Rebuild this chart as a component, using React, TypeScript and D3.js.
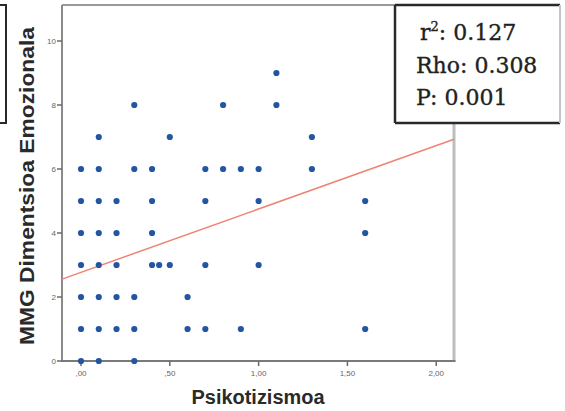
import React from "react";
import * as d3 from "d3";

// Observations: Psikotizismoa (x) vs MMG Dimentsioa Emozionala (y)
const psikotizismoa = [
  0, 0, 0, 0, 0, 0, 0,
  0.1, 0.1, 0.1, 0.1, 0.1, 0.1, 0.1, 0.1,
  0.2, 0.2, 0.2, 0.2, 0.2,
  0.3, 0.3, 0.3, 0.3, 0.3,
  0.4, 0.4, 0.4, 0.4,
  0.44,
  0.5, 0.5,
  0.6, 0.6,
  0.7, 0.7, 0.7, 0.7,
  0.8, 0.8,
  0.9, 0.9,
  1.0, 1.0, 1.0,
  1.1, 1.1,
  1.3, 1.3,
  1.6, 1.6, 1.6,
];
const emozionala = [
  0, 1, 2, 3, 4, 5, 6,
  0, 1, 2, 3, 4, 5, 6, 7,
  1, 2, 3, 4, 5,
  0, 1, 2, 6, 8,
  3, 4, 5, 6,
  3,
  3, 7,
  1, 2,
  1, 3, 5, 6,
  6, 8,
  1, 6,
  3, 5, 6,
  8, 9,
  6, 7,
  1, 4, 5,
];

// Linear fit line (intercept, slope)
const fitIntercept = 2.77;
const fitSlope = 1.98;

const xTicks = [0, 0.5, 1, 1.5, 2];
const xTickLabels = [",00", ",50", "1,00", "1,50", "2,00"];
const yTicks = [0, 2, 4, 6, 8, 10];

const statLines = [
  { label: "r", sup: "2", value: "0.127" },
  { label: "Rho", sup: "", value: "0.308" },
  { label: "P", sup: "", value: "0.001" },
];

const W = 565;
const H = 411;
const plot = { left: 62, right: 454, top: 5, bottom: 361 };

export default function App() {
  const x = d3.scaleLinear().domain([-0.107, 2.1]).range([plot.left, plot.right]);
  const y = d3.scaleLinear().domain([0, 10]).range([plot.bottom, 41]);

  const xDomain = x.domain();
  const fitLine = d3
    .line<number>()
    .x((d) => x(d))
    .y((d) => y(fitIntercept + fitSlope * d))(xDomain);

  const tickFont = "'Liberation Sans', Arial, sans-serif";

  return (
    <svg
      width={W}
      height={H}
      viewBox={`0 0 ${W} ${H}`}
      style={{ position: "absolute", left: 0, top: 0, background: "#fff" }}
    >
      <rect x={0} y={0} width={W} height={H} fill="#fff" />

      {/* plot frame */}
      <line x1={plot.left} x2={plot.right} y1={plot.top} y2={plot.top} stroke="#9a9a9a" strokeWidth={2} />
      <line x1={plot.right} x2={plot.right} y1={plot.top} y2={plot.bottom} stroke="#bdbdbd" strokeWidth={3} />
      <line x1={plot.left} x2={plot.left} y1={plot.top} y2={plot.bottom + 1} stroke="#8a8a8a" strokeWidth={2} />
      <line x1={plot.left} x2={plot.right + 1.5} y1={plot.bottom} y2={plot.bottom} stroke="#7a7a7a" strokeWidth={2} />

      {/* y ticks */}
      {yTicks.map((t) => (
        <g key={`yt${t}`}>
          <line x1={plot.left - 5} x2={plot.left} y1={y(t)} y2={y(t)} stroke="#6a6a6a" strokeWidth={1.5} />
          <text
            x={plot.left - 6}
            y={y(t)}
            dy="0.35em"
            textAnchor="end"
            fontFamily={tickFont}
            fontSize={8}
            fill="#666"
          >
            {t}
          </text>
        </g>
      ))}

      {/* x ticks */}
      {xTicks.map((t, i) => (
        <g key={`xt${t}`}>
          <line x1={x(t)} x2={x(t)} y1={plot.bottom} y2={plot.bottom + 5} stroke="#6a6a6a" strokeWidth={1.5} />
          <text
            x={x(t)}
            y={plot.bottom + 15}
            textAnchor="middle"
            fontFamily={tickFont}
            fontSize={8}
            fill="#666"
          >
            {xTickLabels[i]}
          </text>
        </g>
      ))}

      {/* fit line */}
      <path d={fitLine ?? ""} fill="none" stroke="#ee8474" strokeWidth={1.5} />

      {/* points */}
      {psikotizismoa.map((v, i) => (
        <circle key={`p${i}`} cx={x(v)} cy={y(emozionala[i])} r={3.1} fill="#2455a3" />
      ))}

      {/* axis titles */}
      <text
        transform={`translate(34, ${(27 + 345) / 2}) rotate(-90)`}
        textAnchor="middle"
        fontFamily={tickFont}
        fontWeight="bold"
        fontSize={21}
        fill="#2a2a2a"
        textLength={318}
        lengthAdjust="spacingAndGlyphs"
      >
        MMG Dimentsioa Emozionala
      </text>
      <text
        x={258}
        y={404}
        textAnchor="middle"
        fontFamily={tickFont}
        fontWeight="bold"
        fontSize={19.5}
        fill="#2a2a2a"
        textLength={133}
        lengthAdjust="spacingAndGlyphs"
      >
        Psikotizismoa
      </text>

      {/* left annotation box edge */}
      <rect x={-6} y={5} width={12} height={118} fill="#fff" stroke="#2a2a2a" strokeWidth={2} />

      {/* statistics box */}
      <rect x={395} y={5} width={165} height={118} fill="#fff" />
      <line x1={395} x2={560} y1={5} y2={5} stroke="#2a2a2a" strokeWidth={2.5} />
      <line x1={395} x2={560} y1={123} y2={123} stroke="#2a2a2a" strokeWidth={2.5} />
      <line x1={395} x2={395} y1={5} y2={123} stroke="#2a2a2a" strokeWidth={2.5} />
      <line x1={560} x2={560} y1={5} y2={123} stroke="#c4c4c4" strokeWidth={2} />
      {statLines.map((s, i) => (
        <text
          key={s.label}
          x={i === 0 ? 420 : 416}
          y={40 + i * 32.5}
          fontFamily="'DejaVu Serif', 'Liberation Serif', serif"
          fontSize={22}
          fill="#222"
          stroke="#222"
          strokeWidth={0.35}
        >
          {s.label}
          {s.sup ? (
            <tspan fontSize={13} dy={-9}>
              {s.sup}
            </tspan>
          ) : null}
          <tspan dy={s.sup ? 9 : 0}>{`: ${s.value}`}</tspan>
        </text>
      ))}
    </svg>
  );
}
